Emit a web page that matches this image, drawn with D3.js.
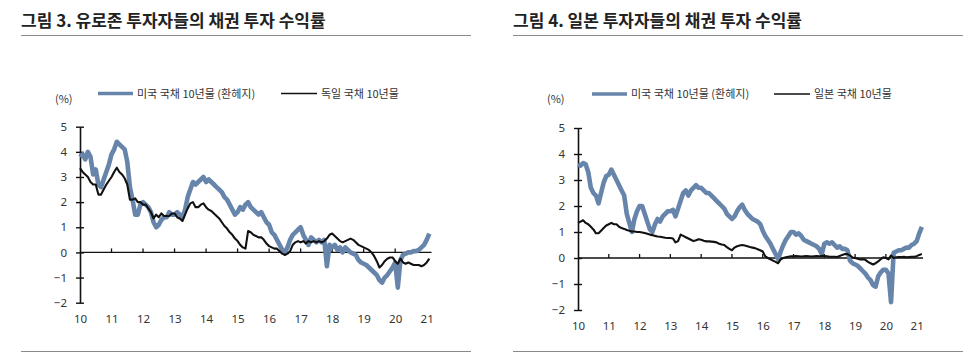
<!DOCTYPE html>
<html><head><meta charset="utf-8">
<script src="https://cdn.jsdelivr.net/npm/d3@7"></script>
<style>
html,body{margin:0;padding:0;background:#fff;}
svg{display:block;font-family:"Noto Sans CJK KR","Noto Sans",sans-serif;}
</style></head>
<body>
<svg id="c" width="971" height="355"></svg>
<script>
// ---- data (monthly, starting Jan 2010) ----
const yearTicks = ["10","11","12","13","14","15","16","17","18","19","20","21"];
const yTicks = [5,4,3,2,1,0,-1,-2];

const titleLeft = "그림 3. 유로존 투자자들의 채권 투자 수익률";
const titleRight = "그림 4. 일본 투자자들의 채권 투자 수익률";
const legendUS = "미국 국채 10년물 (환헤지)";
const legendDE = "독일 국채 10년물";
const legendJP = "일본 국채 10년물";

// Euro-zone investors: US 10Y (hedged)
const euUS = [
 3.8,3.9,3.7,4.0,3.8,3.1,3.3,2.7,2.6,2.9,3.2,3.5,
 3.9,4.1,4.4,4.3,4.2,4.1,3.6,2.6,2.1,1.5,1.5,1.9,
 2.0,1.9,1.8,1.6,1.2,1.0,1.1,1.3,1.4,1.4,1.6,1.5,
 1.5,1.6,1.5,1.4,1.7,2.2,2.5,2.8,2.7,2.8,2.9,3.0,
 2.8,2.9,2.8,2.7,2.6,2.5,2.4,2.2,2.1,1.9,1.7,1.5,
 1.6,1.8,1.7,1.9,2.0,1.8,1.7,1.6,1.5,1.6,1.4,1.2,
 1.1,0.8,0.7,0.5,0.3,0.1,0.0,0.2,0.5,0.7,0.8,0.9,
 1.0,0.7,0.5,0.3,0.6,0.5,0.4,0.5,0.4,0.5,-0.55,0.3,
 0.2,0.3,0.1,0.2,0.0,0.2,0.1,0.0,-0.05,-0.1,-0.3,-0.4,
 -0.45,-0.5,-0.6,-0.7,-0.8,-0.9,-1.1,-1.2,-1.0,-0.9,-0.75,-0.6,
 -0.4,-1.4,-0.3,-0.1,-0.05,0.0,0.0,0.05,0.05,0.1,0.2,0.3,
 0.5,0.75
];
// Euro-zone investors: German Bund 10Y
const euDE = [
 3.35,3.2,3.1,3.0,2.8,2.7,2.7,2.3,2.3,2.5,2.7,2.85,
 3.0,3.2,3.37,3.2,3.1,2.95,2.7,2.1,2.1,2.15,2.0,2.0,
 1.9,1.9,1.75,1.6,1.35,1.5,1.4,1.55,1.45,1.45,1.45,1.55,
 1.55,1.4,1.35,1.25,1.5,1.75,1.95,2.0,1.8,1.8,1.9,1.95,
 1.8,1.7,1.65,1.55,1.45,1.35,1.2,1.05,0.95,0.8,0.7,0.55,
 0.45,0.3,0.2,0.15,0.85,0.8,0.7,0.65,0.6,0.6,0.5,0.35,
 0.25,0.2,0.15,0.15,0.05,-0.05,-0.1,-0.05,0.05,0.3,0.4,0.45,
 0.4,0.45,0.35,0.45,0.4,0.45,0.4,0.45,0.4,0.45,0.55,0.7,
 0.75,0.65,0.55,0.45,0.4,0.45,0.5,0.55,0.5,0.4,0.3,0.25,
 0.2,0.15,0.1,0.0,-0.15,-0.35,-0.6,-0.5,-0.35,-0.25,-0.2,-0.2,
 -0.35,-0.45,-0.25,-0.4,-0.45,-0.4,-0.45,-0.5,-0.5,-0.5,-0.55,-0.5,
 -0.4,-0.25
];
// Japanese investors: US 10Y (hedged)
const jpUS = [
 3.6,3.55,3.65,3.6,3.3,2.7,2.5,2.4,2.1,2.5,2.9,3.15,
 3.2,3.4,3.2,3.0,2.8,2.6,2.4,1.7,1.35,1.0,1.5,1.8,
 2.0,2.0,1.7,1.4,1.1,1.0,1.3,1.5,1.4,1.6,1.7,1.8,
 1.8,1.85,1.6,1.9,2.2,2.5,2.6,2.4,2.6,2.7,2.8,2.7,
 2.7,2.6,2.5,2.5,2.4,2.3,2.2,2.1,2.0,1.9,1.7,1.6,
 1.5,1.6,1.8,1.95,2.05,1.85,1.7,1.6,1.5,1.45,1.4,1.3,
 1.05,0.85,0.7,0.55,0.35,0.15,-0.05,0.25,0.5,0.7,0.85,1.0,
 1.0,0.9,0.95,0.85,0.7,0.65,0.6,0.55,0.5,0.45,0.35,0.15,
 0.55,0.6,0.55,0.6,0.5,0.4,0.45,0.35,0.35,0.3,-0.1,-0.2,
 -0.25,-0.3,-0.4,-0.5,-0.6,-0.75,-0.85,-1.05,-1.1,-0.7,-0.55,-0.45,
 -0.45,-0.6,-1.7,0.2,0.25,0.3,0.3,0.35,0.4,0.4,0.5,0.55,
 0.65,0.95,1.2
];
// Japanese investors: JGB 10Y
const jpJP = [
 1.35,1.4,1.45,1.35,1.3,1.2,1.1,0.95,0.95,1.05,1.15,1.25,
 1.3,1.35,1.3,1.3,1.2,1.15,1.12,1.08,1.05,1.02,1.02,1.0,
 1.0,0.98,0.96,0.93,0.9,0.88,0.85,0.83,0.82,0.8,0.78,0.77,
 0.77,0.75,0.6,0.65,0.9,0.85,0.8,0.75,0.7,0.65,0.68,0.72,
 0.7,0.66,0.64,0.64,0.63,0.62,0.6,0.55,0.52,0.5,0.42,0.35,
 0.3,0.4,0.45,0.48,0.5,0.48,0.45,0.42,0.4,0.38,0.34,0.3,
 0.25,0.06,0.0,-0.05,-0.1,-0.15,-0.2,-0.05,0.0,0.03,0.05,0.07,
 0.07,0.08,0.07,0.06,0.07,0.08,0.07,0.06,0.07,0.08,0.07,0.08,
 0.08,0.07,0.05,0.05,0.05,0.04,0.08,0.12,0.15,0.15,0.1,0.02,
 0.0,-0.03,-0.06,-0.05,-0.07,-0.15,-0.2,-0.25,-0.2,-0.13,-0.05,0.03,
 0.0,-0.05,0.1,0.0,0.03,0.04,0.04,0.05,0.03,0.04,0.05,0.05,
 0.07,0.12,0.15
];
const startYear = 2010;

// ---- drawing ----
const svg = d3.select("#c");
const BLUE = "#6785ab";
const TXT = "#333";

function panel(o) {
  const g = svg.append("g");
  // title
  g.append("text").attr("x", o.tx).attr("y", 27).attr("font-size", 17).attr("font-weight", 700)
    .attr("fill", "#222").text(o.title);
  g.append("line").attr("x1", o.tx).attr("x2", o.tx + 450).attr("y1", 35.5).attr("y2", 35.5)
    .attr("stroke", "#8a8a8a").attr("stroke-width", 1);
  g.append("line").attr("x1", o.tx).attr("x2", o.tx + 450).attr("y1", 351.5).attr("y2", 351.5)
    .attr("stroke", "#8a8a8a").attr("stroke-width", 1);

  const x = d3.scaleLinear().domain([2010, 2021]).range([o.x0, o.x1]);
  const y = d3.scaleLinear().domain([-2, 5]).range([o.yb, o.yt]);

  // (%)
  g.append("text").attr("x", o.pctX).attr("y", 103).attr("font-size", 11).attr("fill", TXT).text("(%)");

  // legend
  const lg = g.append("g");
  lg.append("line").attr("x1", o.lg1).attr("x2", o.lg1 + 35).attr("y1", o.ly).attr("y2", o.ly)
    .attr("stroke", BLUE).attr("stroke-width", 3.5);
  lg.append("text").attr("x", o.lg1 + 39).attr("y", o.ly + 4).attr("font-size", 11).attr("fill", TXT).text(legendUS);
  lg.append("line").attr("x1", o.lg2).attr("x2", o.lg2 + 36).attr("y1", o.ly).attr("y2", o.ly)
    .attr("stroke", "#111").attr("stroke-width", 1.5);
  lg.append("text").attr("x", o.lg2 + 40).attr("y", o.ly + 4).attr("font-size", 11).attr("fill", TXT).text(o.legend2);

  // y axis
  const ya = d3.axisLeft(y).tickValues(yTicks).tickSize(0).tickPadding(13).tickFormat(d3.format("d"));
  const yg = g.append("g").attr("transform", `translate(${o.x0},0)`).call(ya);
  yg.select(".domain").attr("stroke", "#111").attr("stroke-width", 1.6);
  yg.selectAll(".tick text").attr("font-size", 11.5).attr("fill", TXT).attr("font-family", "'Noto Sans','Noto Sans CJK KR',sans-serif");
  yg.selectAll(".tick").append("line").attr("x1", -4).attr("x2", 4).attr("stroke", "#111").attr("stroke-width", 1.4);

  // x labels at bottom
  const xa = d3.axisBottom(x).tickValues(d3.range(2010, 2022)).tickSize(0).tickPadding(0)
    .tickFormat((d, i) => yearTicks[i]);
  const xg = g.append("g").attr("transform", `translate(0,${o.xlabY})`).call(xa);
  xg.select(".domain").remove();
  xg.selectAll(".tick text").attr("font-size", 11.5).attr("fill", TXT).attr("dy", 0)
    .attr("font-family", "'Noto Sans','Noto Sans CJK KR',sans-serif");

  // zero line with small ticks
  const y0 = y(0);
  g.append("line").attr("x1", o.x0).attr("x2", o.xEnd).attr("y1", y0).attr("y2", y0)
    .attr("stroke", "#111").attr("stroke-width", 1.3);
  g.selectAll(".zt").data(d3.range(2011, 2021)).enter().append("line")
    .attr("x1", d => x(d)).attr("x2", d => x(d)).attr("y1", y0).attr("y2", y0 - 4)
    .attr("stroke", "#111").attr("stroke-width", 1.3);

  const line = d3.line().x((d, i) => x(startYear + i / 12)).y(d => y(d));
  g.append("path").datum(o.s1).attr("d", line).attr("fill", "none").attr("stroke", BLUE)
    .attr("stroke-width", 4.6).attr("stroke-linejoin", "round");
  g.append("path").datum(o.s2).attr("d", line).attr("fill", "none").attr("stroke", "#111")
    .attr("stroke-width", 2.1).attr("stroke-linejoin", "round");
}

panel({title: titleLeft, tx: 21, x0: 80, x1: 426.7, xEnd: 431.5, yt: 126.7, yb: 302.7,
  xlabY: 323, pctX: 55, lg1: 98, lg2: 281, ly: 93.5, legend2: legendDE, s1: euUS, s2: euDE});
panel({title: titleRight, tx: 513, x0: 578, x1: 916.7, xEnd: 923, yt: 128, yb: 310,
  xlabY: 330, pctX: 547, lg1: 592, lg2: 774, ly: 94, legend2: legendJP, s1: jpUS, s2: jpJP});
</script>
</body></html>
